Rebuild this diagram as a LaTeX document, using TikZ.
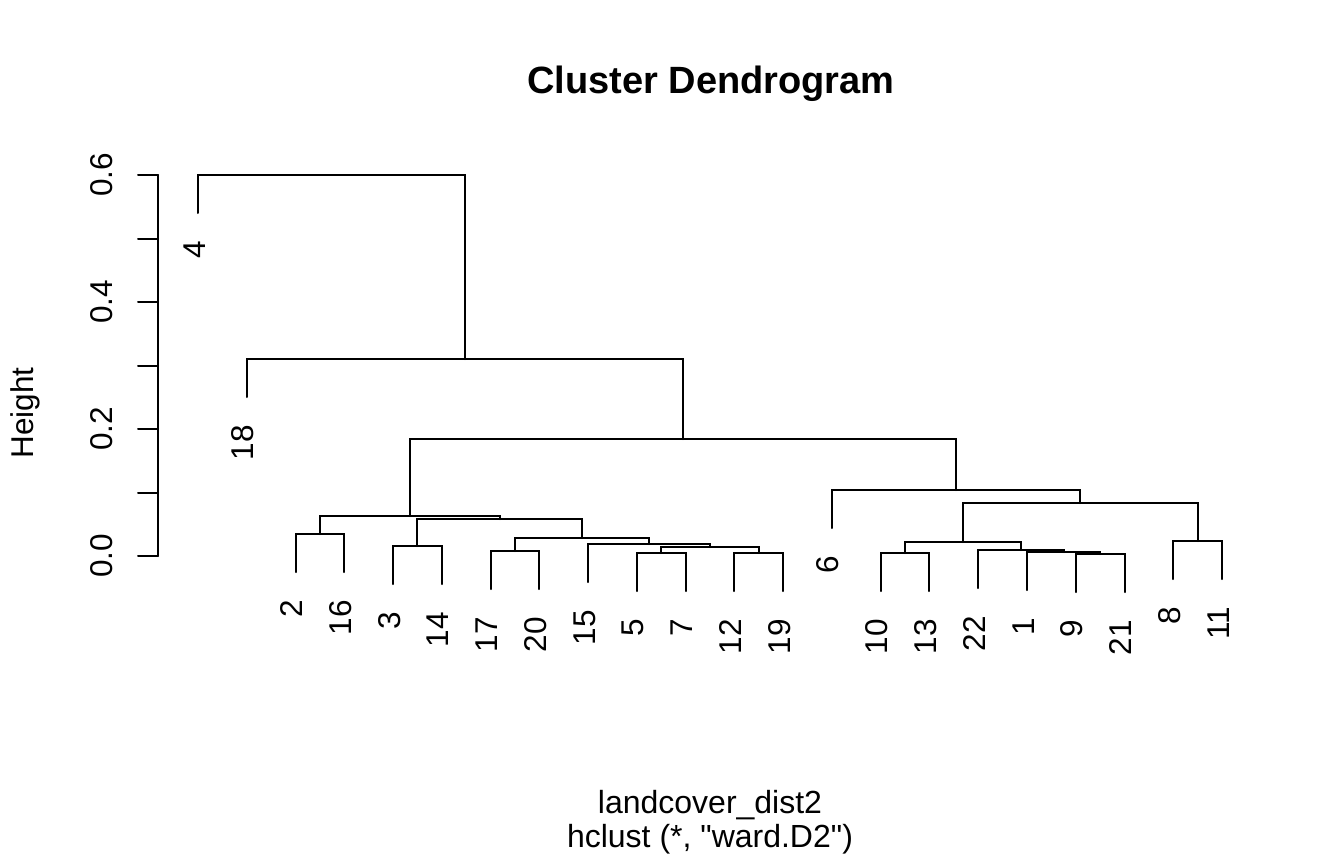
\documentclass[tikz,border=0pt]{standalone}
\usepackage{fontspec}
\setmainfont{Liberation Sans}
\begin{document}
\begin{tikzpicture}[x=1pt,y=-1pt,
  tree/.style={line width=2pt, line cap=round},
  lbl/.style={rotate=90, anchor=base east, inner sep=0pt, font=\fontsize{31.5}{36}\selectfont},
  axlbl/.style={rotate=90, anchor=base, inner sep=0pt, font=\fontsize{31.5}{36}\selectfont},
  txt/.style={anchor=base, inner sep=0pt, font=\fontsize{32}{36}\selectfont},
  ttl/.style={anchor=base, inner sep=0pt, font=\bfseries\fontsize{38}{44}\selectfont}]
\fill[white] (0,0) rectangle (1344,865);
\useasboundingbox (0,0) rectangle (1344,865);

% leaf ends
\coordinate (l4) at (198,213);
\coordinate (l18) at (246.8,397);
\coordinate (l2) at (295.5,572);
\coordinate (l16) at (344.3,572);
\coordinate (l3) at (393.0,584);
\coordinate (l14) at (441.8,584);
\coordinate (l17) at (490.6,589);
\coordinate (l20) at (539.3,589);
\coordinate (l15) at (588.1,582);
\coordinate (l5) at (636.9,591);
\coordinate (l7) at (685.6,591);
\coordinate (l12) at (734.4,591);
\coordinate (l19) at (783.1,591);
\coordinate (l6) at (831.9,528);
\coordinate (l10) at (880.7,591);
\coordinate (l13) at (929.4,591);
\coordinate (l22) at (978.2,588);
\coordinate (l1) at (1027,590);
\coordinate (l9) at (1075.7,592);
\coordinate (l21) at (1124.5,592);
\coordinate (l8) at (1173.3,579);
\coordinate (l11) at (1222,579);

% merges
\coordinate (m921) at (1100.1,554);
\coordinate (m1) at (1063.6,552);
\coordinate (m22) at (1020.9,550);
\coordinate (m1013) at (905.05,553);
\coordinate (mA) at (963,542);
\coordinate (m811) at (1197.6,541);
\coordinate (mB) at (1080.3,503);
\coordinate (mR) at (956.1,490);
\coordinate (m57) at (661.25,553);
\coordinate (m1219) at (758.75,553);
\coordinate (mC) at (710,547);
\coordinate (m15) at (649,544);
\coordinate (m1720) at (515,551);
\coordinate (mD) at (582,538);
\coordinate (m314) at (417.4,546);
\coordinate (mE) at (499.7,519);
\coordinate (m216) at (319.9,534);
\coordinate (mL) at (409.8,516);
\coordinate (mBig) at (683,439);
\coordinate (m18) at (464.9,359);
\coordinate (mTop) at (331.45,175);

\begin{scope}[tree]
\draw (l9) |- (m921) -| (l21);
\draw (l1) |- (m1) -| (m921);
\draw (l22) |- (m22) -| (m1);
\draw (l10) |- (m1013) -| (l13);
\draw (m1013) |- (mA) -| (m22);
\draw (l8) |- (m811) -| (l11);
\draw (mA) |- (mB) -| (m811);
\draw (l6) |- (mR) -| (mB);
\draw (l5) |- (m57) -| (l7);
\draw (l12) |- (m1219) -| (l19);
\draw (m57) |- (mC) -| (m1219);
\draw (l15) |- (m15) -| (mC);
\draw (l17) |- (m1720) -| (l20);
\draw (m1720) |- (mD) -| (m15);
\draw (l3) |- (m314) -| (l14);
\draw (m314) |- (mE) -| (mD);
\draw (l2) |- (m216) -| (l16);
\draw (m216) |- (mL) -| (mE);
\draw (mL) |- (mBig) -| (mR);
\draw (l18) |- (m18) -| (mBig);
\draw (l4) |- (mTop) -| (m18);
\end{scope}

% leaf labels
\foreach \n in {4,18,2,16,3,14,17,20,15,5,7,12,19,6,10,13,22,1,9,21,8,11}
  \node[lbl] (t\n) at ([shift={(7,28)}]l\n) {\n};

% axis
\coordinate (a0) at (158,556);
\coordinate (a6) at (158,175);
\draw[tree] (a0) -- (a6);
\foreach \y in {556,492.5,429,365.5,302,238.5,175}
  \draw[tree] (158,\y) -- (138,\y);
\node[axlbl] (y0) at (112,556) {0.0};
\node[axlbl] (y2) at (112,429) {0.2};
\node[axlbl] (y4) at (112,302) {0.4};
\node[axlbl] (y6) at (112,175) {0.6};
\node[axlbl] (ylab) at (34,413) {Height};

\node[ttl] (title) at (711,93) {Cluster Dendrogram};
\node[txt] (sub1) at (710,813) {landcover\_dist2};
\node[txt] (sub2) at (710,847) {hclust (*, \textquotedbl ward.D2\textquotedbl)};
\end{tikzpicture}
\end{document}
